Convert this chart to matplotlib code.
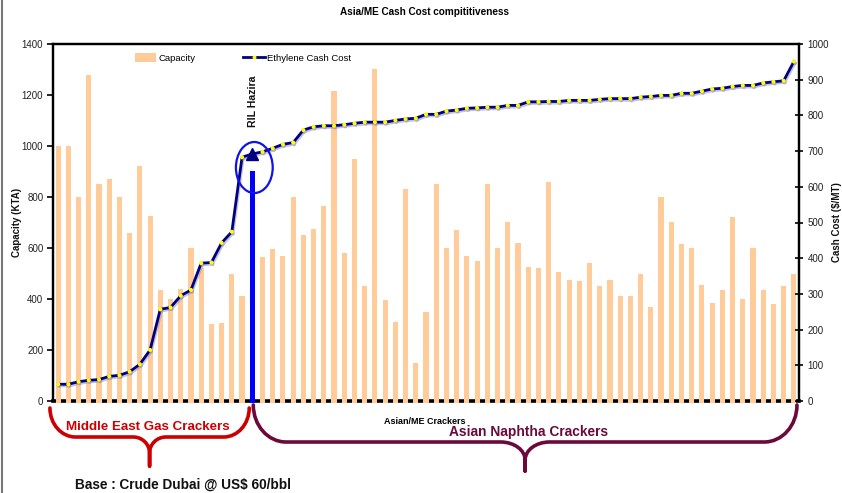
import matplotlib
matplotlib.use("Agg")
import matplotlib.pyplot as plt
from matplotlib import font_manager, transforms
from matplotlib.path import Path
from matplotlib.patches import PathPatch, Ellipse, Patch
from matplotlib.lines import Line2D
import matplotlib.patheffects as pe
import numpy as np

# ---------------- data ----------------
capacity = [1000, 1000, 800, 1280, 850, 870, 800, 660, 920, 725,
            435, 400, 440, 600, 520, 300, 305, 500, 410,
            900,
            565, 595, 570, 800, 650, 675, 765, 1215, 580, 950,
            450, 1300, 395, 310, 830, 150, 350, 850, 600, 670,
            570, 550, 850, 600, 700, 620, 525, 520, 860, 505,
            475, 470, 540, 450, 475, 410, 410, 500, 370, 800,
            700, 615, 600, 455, 385, 435, 720, 400, 600, 435,
            380, 450, 500]

cash_cost = [47, 47, 54, 58, 60, 69, 72, 82, 103, 143,
             257, 262, 295, 311, 386, 388, 443, 474, 683,
             692,
             698, 708, 719, 724, 759, 768, 771, 771, 774, 778,
             781, 781, 781, 786, 790, 792, 803, 803, 812, 815,
             820, 821, 823, 823, 828, 828, 838, 838, 839, 839,
             842, 842, 842, 845, 847, 847, 847, 851, 853, 856,
             856, 862, 862, 868, 874, 876, 881, 884, 884, 891,
             894, 897, 951]

ril_index = 19          # RIL Hazira position in the sorted list
me_count = 19           # Middle East gas crackers before RIL
left_ticks = [0, 200, 400, 600, 800, 1000, 1200, 1400]
right_ticks = [0, 100, 200, 300, 400, 500, 600, 700, 800, 900, 1000]

title = "Asia/ME Cash Cost compititiveness"
left_label = "Capacity (KTA)"
right_label = "Cash Cost ($/MT)"
x_label = "Asian/ME Crackers"
bar_name = "Capacity"
line_name = "Ethylene Cash Cost"
ril_label = "RIL Hazira"
group_me = "Middle East Gas Crackers"
group_asia = "Asian Naphtha Crackers"
base_note = "Base : Crude Dubai @ US$ 60/bbl"

# ---------------- style ----------------
names = {f.name for f in font_manager.fontManager.ttflist}
narrow = "Liberation Sans Narrow" if "Liberation Sans Narrow" in names else "Liberation Sans"
plt.rcParams["font.family"] = ["Liberation Sans", "DejaVu Sans"]

W, H = 842, 493
fig = plt.figure(figsize=(W / 100, H / 100), dpi=100)
fig.patch.set_facecolor("white")

ax = fig.add_axes([53 / W, 1 - 401 / H, (799 - 53) / W, (401 - 44) / H])
ax2 = ax.twinx()

n = len(capacity)
x = np.arange(n)
colors = ["#FFCC99"] * n
colors[ril_index] = "#0000FF"

ax.bar(x, np.array(capacity) + 8, bottom=-8, width=0.5, color=colors,
       zorder=3, clip_on=False)
ax.set_xlim(-0.5, n - 0.5)
ax.set_ylim(0, 1400)
ax.set_yticks(left_ticks)
ax.set_xticks([])

ax2.set_ylim(0, 1000)
ax2.set_yticks(right_ticks)

ax2.plot(x, cash_cost, color="#000080", lw=2.0, marker="o", ms=1.9,
         mfc="#FFFF00", mec="#FFFF00", zorder=5,
         path_effects=[pe.SimpleLineShadow(offset=(0.8, -1.2), shadow_color="#8888bb", alpha=0.5),
                       pe.Normal()])
ax2.plot([ril_index], [cash_cost[ril_index]], marker="^", ms=8.5, color="#000080",
         mec="#000080", zorder=6, ls="none")

# ellipse around RIL
ax2.add_patch(Ellipse((ril_index + 0.2, cash_cost[ril_index] - 38), width=3.6, height=143,
                      fill=False, edgecolor="#1010F0", lw=1.6, zorder=7))

# spines / ticks
for side in ["left", "right", "top"]:
    ax.spines[side].set_linewidth(1.6)
    ax.spines[side].set_color("black")
    ax2.spines[side].set_linewidth(1.6)
    ax2.spines[side].set_color("black")
ax.spines["bottom"].set_linewidth(2.6)
ax.spines["bottom"].set_color("black")
ax.spines["bottom"].set_zorder(2)
ax2.spines["bottom"].set_visible(False)

ax.tick_params(axis="y", direction="out", length=4, width=1.2, pad=3,
               labelsize=7, labelcolor="#222222")
ax2.tick_params(axis="y", direction="inout", length=6, width=1.2, pad=3,
                labelsize=7, labelcolor="#222222")

ax.text(-0.048, 0.5, left_label, transform=ax.transAxes, rotation=90,
        ha="center", va="center", fontsize=7, fontweight="bold", color="#111111")
ax2.text(1.051, 0.5, right_label, transform=ax.transAxes, rotation=90,
         ha="center", va="center", fontsize=7, fontweight="bold", color="#111111")

fig.text(425 / W, 1 - 12 / H, title, ha="center", va="center", fontsize=7.2,
         fontweight="bold", family=[narrow, "DejaVu Sans"])

# RIL label
fig.text(253 / W, 1 - 101 / H, ril_label, rotation=90, ha="center", va="center",
         fontsize=7.6, fontweight="bold", color="#111111")

# legend
handles = [Patch(facecolor="#FFCC99", edgecolor="none"),
           Line2D([], [], color="#000080", lw=2, marker="o", ms=1.9,
                  mfc="#FFFF00", mec="#FFFF00")]
fig.legend(handles, [bar_name, line_name], loc="center left",
           bbox_to_anchor=(128 / W, 1 - 58 / H), ncol=2, frameon=False,
           handlelength=2.3, handleheight=1.0,
           handletextpad=0.25, columnspacing=5.0, borderpad=0.2,
           prop={"family": [narrow, "DejaVu Sans"], "size": 6.8})

# x-axis label
fig.text(425 / W, 1 - 421 / H, x_label, ha="center", va="center",
         fontsize=6.5, fontweight="bold", family=[narrow, "DejaVu Sans"])

# braces (x in data units, y in pixels from top)
bt = transforms.blended_transform_factory(ax.transData, fig.transFigure)
K = 0.5523


def brace(x0, x1, xc, ytop, ymid, ytip, rx_end, rx_mid, ry_mid, color):
    def fy(v):
        return 1 - v / H
    ry_end = ymid - ytop
    verts = [(x0, fy(ytop)),
             (x0, fy(ytop + K * ry_end)), (x0 + (1 - K) * rx_end, fy(ymid)), (x0 + rx_end, fy(ymid)),
             (xc - rx_mid, fy(ymid)),
             (xc - (1 - K) * rx_mid, fy(ymid)), (xc, fy(ymid + (1 - K) * ry_mid)), (xc, fy(ymid + ry_mid)),
             (xc, fy(ytip)),
             (xc, fy(ymid + ry_mid)),
             (xc, fy(ymid + (1 - K) * ry_mid)), (xc + (1 - K) * rx_mid, fy(ymid)), (xc + rx_mid, fy(ymid)),
             (x1 - rx_end, fy(ymid)),
             (x1 - (1 - K) * rx_end, fy(ymid)), (x1, fy(ytop + K * ry_end)), (x1, fy(ytop))]
    codes = [Path.MOVETO,
             Path.CURVE4, Path.CURVE4, Path.CURVE4,
             Path.LINETO,
             Path.CURVE4, Path.CURVE4, Path.CURVE4,
             Path.LINETO,
             Path.LINETO,
             Path.CURVE4, Path.CURVE4, Path.CURVE4,
             Path.LINETO,
             Path.CURVE4, Path.CURVE4, Path.CURVE4]
    p = PathPatch(Path(verts, codes), fill=False, edgecolor=color, lw=2.6,
                  transform=bt, clip_on=False, capstyle="round", joinstyle="round")
    fig.add_artist(p)


brace(-0.8, me_count - 0.3, (me_count - 1.1) / 2, 408, 437, 466, 2.5, 1.6, 16, "#CC0000")
brace(me_count + 0.1, n - 0.7, (me_count + n - 0.6) / 2, 405, 442, 471, 3.2, 2.4, 18, "#6B0A3A")

fig.text(148 / W, 1 - 427 / H, group_me, ha="center", va="center", fontsize=9.6,
         fontweight="bold", color="#CC0000", family=[narrow, "DejaVu Sans"])
fig.text(529 / W, 1 - 432 / H, group_asia, ha="center", va="center", fontsize=9.9,
         fontweight="bold", color="#6B0A3A", family=[narrow, "DejaVu Sans"])
fig.text(75 / W, 1 - 485 / H, base_note, ha="left", va="center", fontsize=9.8,
         fontweight="bold", color="#111111", family=[narrow, "DejaVu Sans"])

# left border of the slide
fig.add_artist(Line2D([1.5 / W, 1.5 / W], [0, 1], transform=fig.transFigure,
                      color="#777777", lw=1.5))

fig.savefig("out.png", dpi=100)
